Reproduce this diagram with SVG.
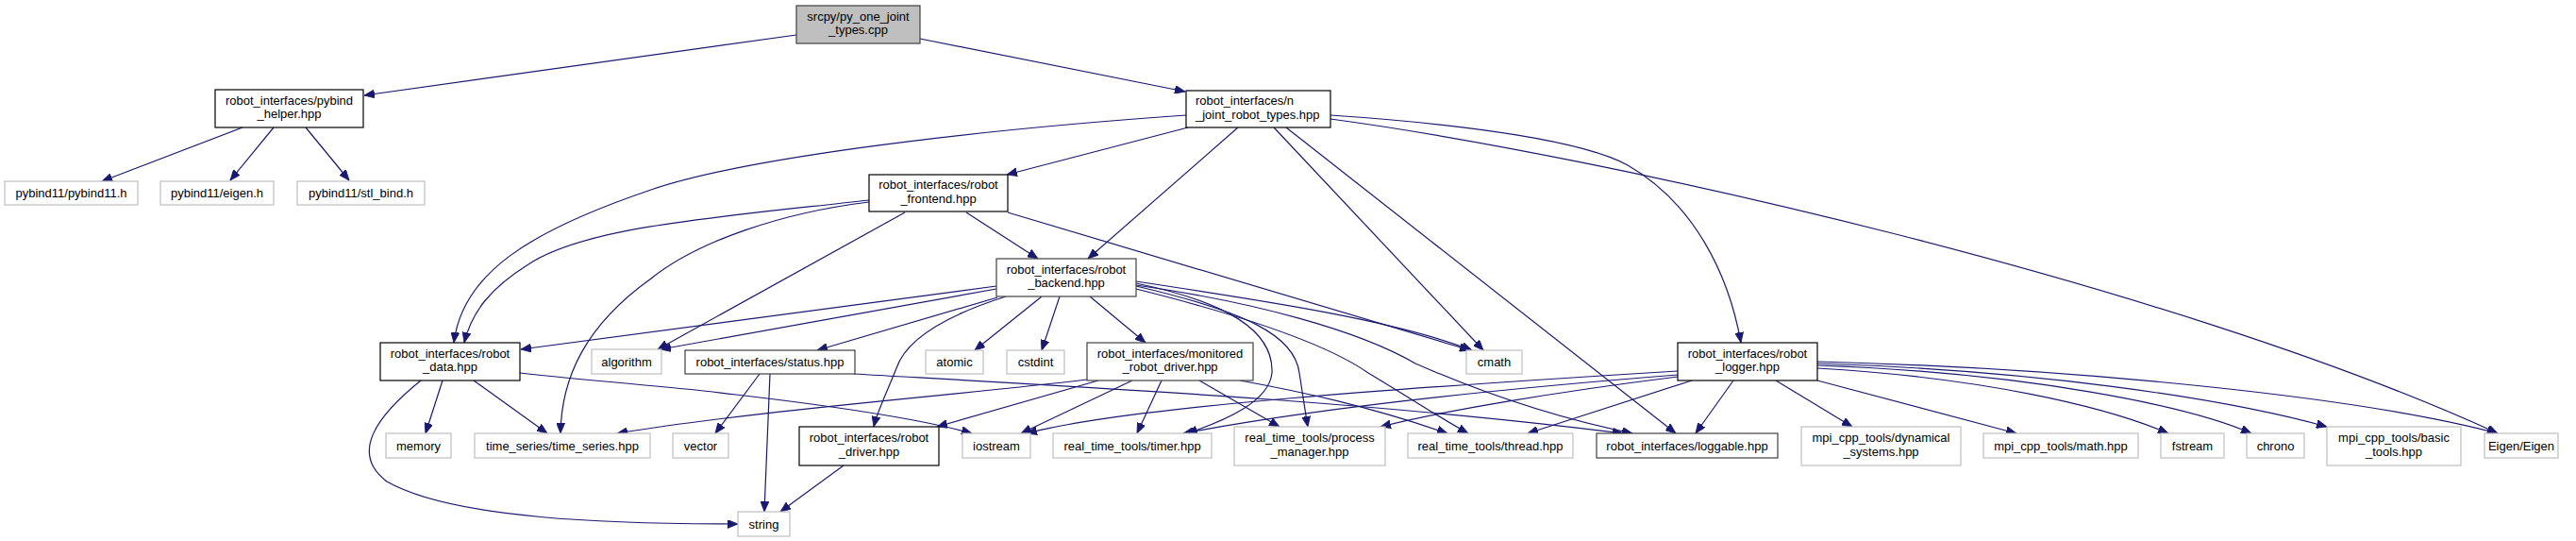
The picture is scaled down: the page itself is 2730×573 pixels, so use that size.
<svg xmlns="http://www.w3.org/2000/svg" width="2730" height="573" viewBox="0 0 2730 573">
<style>
.n rect{fill:#fff;stroke:#000;stroke-width:1.2}
.g rect{fill:#fff;stroke:#bfbfbf;stroke-width:1.2}
.d rect{stroke:#404040}
.s rect{fill:#bfbfbf;stroke:#404040;stroke-width:1.2}
text{font-family:"Liberation Sans",Arial,sans-serif;font-size:13px;fill:#000;text-anchor:middle}
#edges path{fill:none;stroke:#191970;stroke-width:1.2;marker-end:url(#ah)}
</style>
<defs>
<marker id="ah" markerUnits="userSpaceOnUse" markerWidth="12" markerHeight="9" refX="11" refY="4.5" orient="auto">
<path d="M0,0 L11,4.5 L0,9 Z" fill="#191970" stroke="#191970" stroke-width="0.8"/>
</marker>
</defs>
<rect width="2730" height="573" fill="#fff"/>
<g id="edges">
<path d="M844,37 L386,101"/>
<path d="M975,41 L1256,97"/>
<path d="M257,135 L108,192"/>
<path d="M290,135 L244,191"/>
<path d="M324,135 L370,191"/>
<path d="M1257,122 C1000,140 780,170 690,201 C560,245 490,290 481,363"/>
<path d="M1259,135 L1067,185"/>
<path d="M1312,135 L1153,274"/>
<path d="M1350,135 L1572,371"/>
<path d="M1363,135 L1776,459"/>
<path d="M1410,122 C1560,132 1680,150 1725,175 C1795,215 1832,290 1845,363"/>
<path d="M1410,126 C1700,165 2300,300 2647,459"/>
<path d="M921,212 C760,230 620,240 560,280 C520,305 500,330 492,363"/>
<path d="M921,214 C830,225 740,255 690,295 C620,345 595,400 594,459"/>
<path d="M959,225 L697,370"/>
<path d="M1024,225 L1100,274"/>
<path d="M1068,225 L1558,371"/>
<path d="M1056,303 L552,370"/>
<path d="M1056,306 L700,370"/>
<path d="M1057,315 L866,371"/>
<path d="M1104,314 L1033,371"/>
<path d="M1123,314 L1104,371"/>
<path d="M1155,314 L1214,363"/>
<path d="M1066,314 C1000,335 960,360 950,390 C938,420 930,435 926,452"/>
<path d="M1204,300 C1300,320 1350,350 1348,395 C1345,425 1300,445 1258,459"/>
<path d="M1204,303 C1320,330 1372,355 1377,395 C1381,420 1383,435 1386,452"/>
<path d="M1204,306 C1300,330 1400,360 1450,395 C1500,425 1530,445 1556,459"/>
<path d="M1204,302 C1330,320 1440,350 1500,385 C1580,420 1660,445 1730,459"/>
<path d="M1204,298 C1350,320 1480,340 1560,371"/>
<path d="M469,403 L451,459"/>
<path d="M502,403 L580,459"/>
<path d="M446,403 C400,440 370,480 410,510 C480,550 650,555 782,555"/>
<path d="M551,395 C640,405 720,410 780,418 C900,432 980,445 1030,459"/>
<path d="M805,396 L758,459"/>
<path d="M816,396 L810,542"/>
<path d="M905,396 C1150,410 1450,425 1720,459"/>
<path d="M894,493 L827,542"/>
<path d="M1152,402 C1000,420 800,435 654,459"/>
<path d="M1164,403 L993,452"/>
<path d="M1200,403 L1082,459"/>
<path d="M1231,403 L1205,459"/>
<path d="M1271,403 L1356,452"/>
<path d="M1314,403 C1380,415 1450,430 1534,459"/>
<path d="M1778,393 C1500,410 1200,430 1088,459"/>
<path d="M1778,397 C1550,415 1380,435 1254,459"/>
<path d="M1778,399 C1650,415 1530,435 1463,452"/>
<path d="M1793,403 L1619,459"/>
<path d="M1837,403 L1797,459"/>
<path d="M1882,403 L1963,452"/>
<path d="M1926,403 L2137,459"/>
<path d="M1926,390 C2100,400 2230,430 2298,459"/>
<path d="M1926,387 C2150,395 2320,430 2386,459"/>
<path d="M1926,385 C2150,392 2350,420 2466,452"/>
<path d="M1926,383 C2200,390 2500,420 2647,459"/>
</g>
<g id="srcpy" class="s"><rect x="844" y="6" width="131" height="40"/><text x="909.5" y="21.5">srcpy/py_one_joint</text><text x="909.5" y="36">_types.cpp</text></g>
<g id="pybind_helper" class="n"><rect x="228" y="95" width="157" height="40"/><text x="306.5" y="110.5">robot_interfaces/pybind</text><text x="306.5" y="125">_helper.hpp</text></g>
<g id="n_joint" class="n"><rect x="1257" y="96" width="153" height="39"/><text x="1267" y="111" style="text-anchor:start">robot_interfaces/n</text><text x="1267" y="125.5" style="text-anchor:start">_joint_robot_types.hpp</text></g>
<g id="pybind11" class="g"><rect x="5" y="192" width="141" height="25"/><text x="75.5" y="209">pybind11/pybind11.h</text></g>
<g id="eigen_h" class="g"><rect x="170" y="192" width="120" height="25"/><text x="230" y="209">pybind11/eigen.h</text></g>
<g id="stl_bind" class="g"><rect x="315" y="192" width="135" height="25"/><text x="382.5" y="209">pybind11/stl_bind.h</text></g>
<g id="frontend" class="n"><rect x="921" y="185" width="147" height="39"/><text x="994.5" y="200">robot_interfaces/robot</text><text x="994.5" y="214.5">_frontend.hpp</text></g>
<g id="backend" class="n d"><rect x="1056" y="274" width="148" height="40"/><text x="1130" y="289.5">robot_interfaces/robot</text><text x="1130" y="304">_backend.hpp</text></g>
<g id="robot_data" class="n"><rect x="403" y="363" width="148" height="40"/><text x="477" y="378.5">robot_interfaces/robot</text><text x="477" y="393">_data.hpp</text></g>
<g id="algorithm" class="g"><rect x="627" y="370" width="74" height="26"/><text x="664" y="387.5">algorithm</text></g>
<g id="status" class="n d"><rect x="726" y="371" width="180" height="25"/><text x="816" y="388">robot_interfaces/status.hpp</text></g>
<g id="atomic" class="g"><rect x="981" y="371" width="61" height="25"/><text x="1011.5" y="388">atomic</text></g>
<g id="cstdint" class="g"><rect x="1067" y="371" width="61" height="25"/><text x="1097.5" y="388">cstdint</text></g>
<g id="monitored" class="n d"><rect x="1152" y="363" width="176" height="40"/><text x="1240" y="378.5">robot_interfaces/monitored</text><text x="1240" y="393">_robot_driver.hpp</text></g>
<g id="cmath" class="g"><rect x="1554" y="371" width="59" height="25"/><text x="1583.5" y="388">cmath</text></g>
<g id="logger" class="n"><rect x="1778" y="363" width="148" height="40"/><text x="1852" y="378.5">robot_interfaces/robot</text><text x="1852" y="393">_logger.hpp</text></g>
<g id="memory" class="g"><rect x="409" y="459" width="69" height="26"/><text x="443.5" y="476.5">memory</text></g>
<g id="time_series" class="g"><rect x="503" y="459" width="186" height="26"/><text x="596" y="476.5">time_series/time_series.hpp</text></g>
<g id="vector" class="g"><rect x="713" y="459" width="59" height="26"/><text x="742.5" y="476.5">vector</text></g>
<g id="robot_driver" class="n"><rect x="847" y="452" width="148" height="41"/><text x="921" y="468">robot_interfaces/robot</text><text x="921" y="482.5">_driver.hpp</text></g>
<g id="iostream" class="g"><rect x="1020" y="459" width="72" height="26"/><text x="1056" y="476.5">iostream</text></g>
<g id="timer" class="g"><rect x="1116" y="459" width="168" height="26"/><text x="1200" y="476.5">real_time_tools/timer.hpp</text></g>
<g id="process_manager" class="g"><rect x="1308" y="452" width="160" height="41"/><text x="1388" y="468">real_time_tools/process</text><text x="1388" y="482.5">_manager.hpp</text></g>
<g id="thread" class="g"><rect x="1492" y="459" width="175" height="26"/><text x="1579.5" y="476.5">real_time_tools/thread.hpp</text></g>
<g id="loggable" class="n d"><rect x="1692" y="459" width="192" height="26"/><text x="1788" y="476.5">robot_interfaces/loggable.hpp</text></g>
<g id="dynamical" class="g"><rect x="1909" y="452" width="169" height="41"/><text x="1993.5" y="468">mpi_cpp_tools/dynamical</text><text x="1993.5" y="482.5">_systems.hpp</text></g>
<g id="math" class="g"><rect x="2102" y="459" width="164" height="26"/><text x="2184" y="476.5">mpi_cpp_tools/math.hpp</text></g>
<g id="fstream" class="g"><rect x="2290" y="459" width="67" height="26"/><text x="2323.5" y="476.5">fstream</text></g>
<g id="chrono" class="g"><rect x="2381" y="459" width="61" height="26"/><text x="2411.5" y="476.5">chrono</text></g>
<g id="basic_tools" class="g"><rect x="2466" y="452" width="142" height="41"/><text x="2537" y="468">mpi_cpp_tools/basic</text><text x="2537" y="482.5">_tools.hpp</text></g>
<g id="eigen" class="g"><rect x="2633" y="459" width="78" height="26"/><text x="2672" y="476.5">Eigen/Eigen</text></g>
<g id="string" class="g"><rect x="782" y="542" width="55" height="26"/><text x="809.5" y="559.5">string</text></g>
</svg>
